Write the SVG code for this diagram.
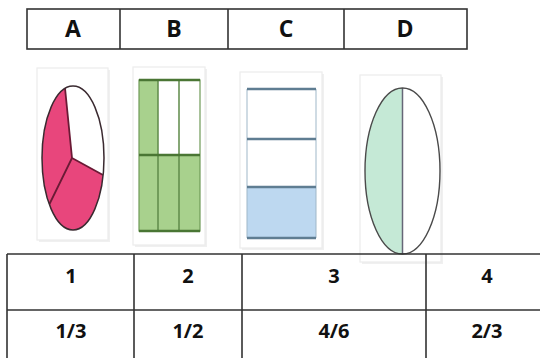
<svg xmlns="http://www.w3.org/2000/svg" width="540" height="358" viewBox="0 0 540 358">
<defs>
<style>
.t{font-family:"Open Sans","Liberation Sans",sans-serif;font-weight:700;fill:#111;text-anchor:middle}
.h{font-size:23px}
.n{font-size:20px}
.ln{stroke:#333;stroke-width:1.6;fill:none}
.card{fill:#fff;stroke:#ececec;stroke-width:1.2}
.shadow{fill:#f0f0f0}
</style>
</defs>
<rect width="540" height="358" fill="#fff"/>
<g id="header">
<rect x="27" y="9" width="440" height="40" class="ln"/>
<line x1="120" y1="9" x2="120" y2="49" class="ln"/>
<line x1="228" y1="9" x2="228" y2="49" class="ln"/>
<line x1="344" y1="9" x2="344" y2="49" class="ln"/>
<text x="73" y="37" class="t h">A</text>
<text x="174" y="37" class="t h">B</text>
<text x="286" y="37" class="t h">C</text>
<text x="405" y="37" class="t h">D</text>
</g>
<g id="figA">
<rect x="39" y="70" width="71" height="172" class="shadow"/>
<rect x="37" y="68" width="71" height="172" class="card"/>
<ellipse cx="73" cy="158" rx="31" ry="72" fill="#e8467c"/>
<path d="M72,158 L65,88 A31,72 0 0,1 103,175 Z" fill="#fff"/>
<path d="M65,88 L72,158 L103,175 M72,158 L49.5,204" stroke="#6a1a35" stroke-width="1.8" fill="none"/>
<ellipse cx="73" cy="158" rx="31" ry="72" fill="none" stroke="#3a2a30" stroke-width="1.5"/>
</g>
<g id="figB">
<rect x="135" y="69" width="72" height="178" class="shadow"/>
<rect x="133" y="67" width="72" height="178" class="card"/>
<rect x="139" y="80" width="61" height="151" fill="#a8d18d"/>
<rect x="158" y="80" width="42" height="75" fill="#fff"/>
<rect x="139" y="80" width="61" height="151" fill="none" stroke="#6f9a58" stroke-width="1.2"/>
<path d="M158,80 V231 M179,80 V231" stroke="#5f8a4a" stroke-width="1.5"/>
<path d="M139,80 H200 M139,155 H200 M139,231 H200" stroke="#4a7634" stroke-width="2.5"/>
</g>
<g id="figC">
<rect x="242" y="74" width="82" height="176" class="shadow"/>
<rect x="240" y="72" width="82" height="176" class="card"/>
<rect x="247" y="187" width="69" height="51" fill="#bdd8f0"/>
<path d="M247,89 V238 M316,89 V238" stroke="#9fb7c8" stroke-width="1"/>
<path d="M247,89 H316 M247,139 H316 M247,187 H316 M247,238 H316" stroke="#5f7d92" stroke-width="2.5"/>
</g>
<g id="figD">
<rect x="362" y="77" width="81" height="187" class="shadow"/>
<rect x="360" y="75" width="81" height="187" class="card"/>
<path d="M402.5,88 A37.5,83 0 0,0 402.5,254 Z" fill="#c5e9d6"/>
<line x1="402.5" y1="88" x2="402.5" y2="254" stroke="#667" stroke-width="1.5"/>
<ellipse cx="402.5" cy="171" rx="37.5" ry="83" fill="none" stroke="#4a4a4a" stroke-width="1.4"/>
</g>
<g id="answers">
<path d="M7,254 H545 M7,310 H545 M7,254 V358 M134,254 V358 M242,254 V358 M426,254 V358" class="ln"/>
<text x="71" y="283" class="t n">1</text>
<text x="188" y="283" class="t n">2</text>
<text x="334" y="283" class="t n">3</text>
<text x="487" y="283" class="t n">4</text>
<text x="71" y="338" class="t n">1/3</text>
<text x="188" y="338" class="t n">1/2</text>
<text x="334" y="338" class="t n">4/6</text>
<text x="487" y="338" class="t n">2/3</text>
</g>
</svg>
